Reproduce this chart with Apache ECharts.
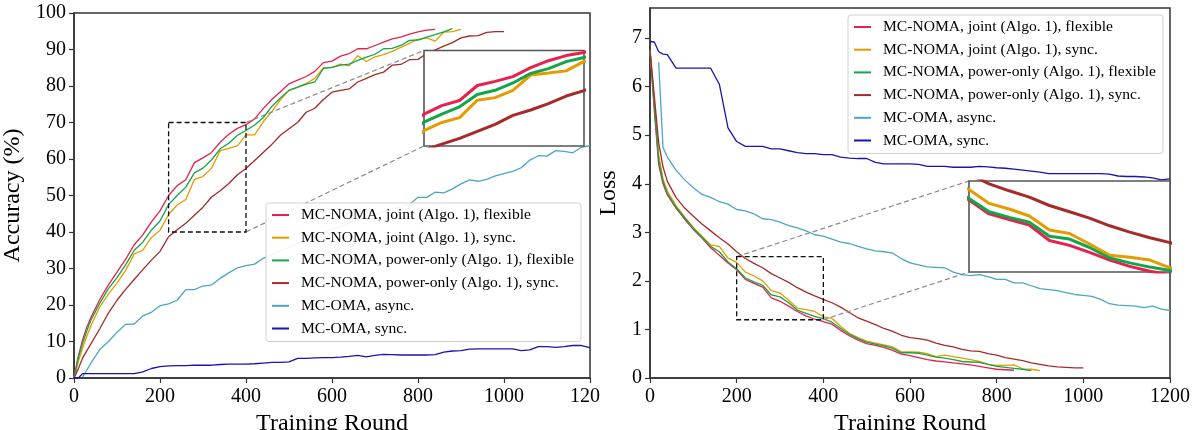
<!DOCTYPE html>
<html><head><meta charset="utf-8">
<script src="https://cdn.jsdelivr.net/npm/echarts@6/dist/echarts.min.js"></script>
<style>
html,body{margin:0;padding:0;background:#fff;}
#wrap{position:relative;width:1193px;height:430px;overflow:hidden;background:#fff;}
#left{position:absolute;left:0;top:0;width:600px;height:430px;overflow:hidden;}
#right{position:absolute;left:600px;top:0;width:593px;height:430px;overflow:hidden;}
</style></head><body>
<div id="wrap"><div id="left"></div><div id="right"></div></div>
<script>
// ---------------- data ----------------
const rounds = [0,10,20,30,40,60,80,100,120,140,160,180,200,220,240,260,280,300,320,340,360,380,400,420,440,460,480,500,520,540,560,580,600,620,640,660,680,700,720,740,760,780,800,820,840,860,880,900,920,940,960,980,1000,1020,1040,1060,1080,1100,1120,1140,1160,1180,1200];

const seriesNames = [
  'MC-NOMA, joint (Algo. 1), flexible',
  'MC-NOMA, joint (Algo. 1), sync.',
  'MC-NOMA, power-only (Algo. 1), flexible',
  'MC-NOMA, power-only (Algo. 1), sync.',
  'MC-OMA, async.',
  'MC-OMA, sync.'
];

// Accuracy (%)
const accJointFlex = [0,6,10.4,14,16.8,21.5,25.5,29,32.5,36.5,39.2,42.8,45.8,50,52.7,54.3,59,60.3,61.8,64.6,66.8,68.4,69.4,71,73.8,76.3,78.4,80.6,81.6,82.6,84,86.4,86.8,88.2,88.9,90.2,90.2,91.1,92,92.9,93.4,94.2,94.8,95.3,95.5];
const accJointSync = [0,4.5,8.2,11.5,14.5,19.5,23,26,29.5,34,35,38.5,40.5,44.8,47.4,48.9,54.4,55.2,57.5,62.3,62.9,63.6,66.6,66.6,70.2,73,76.2,78.8,79.6,80.7,82.1,85,85.1,86,85.5,88.3,86.7,88,88.6,89.5,90.6,91.7,92.8,93.2,92.3,94.8,94.9,95.5];
const accPowerFlex = [0,5.5,9.5,13,16,20.5,24.5,27.5,31,35,37.2,40.5,43,47.5,50,52.3,56.2,57.5,59.8,62.8,64.3,66.5,67.8,69.3,71.3,74.4,76.7,78.8,79.7,80.5,81.1,84.8,85.1,85.7,86,87,87.9,88.7,90.2,90.3,91.1,92.5,92.6,93.4,94.1,94.8,95.7];
const accPowerSync = [0,2.5,5.5,7.5,9.5,13.5,17.8,21.3,24.3,27,29.7,32.3,34.7,38.7,40.6,42.4,44.6,46.8,49.6,51.3,53.3,55.7,57.4,59.6,61.8,64,66.5,68.3,70,72.8,73.9,76.3,78.3,78.8,79.2,81.1,82.1,83.1,83.8,85.7,85.9,87.2,87.3,88.9,89.9,90.9,91.9,93.2,93.7,93.8,94.7,94.9,94.9];
const accOmaAsync = [null,null,0.3,2.2,4.2,7.8,10,12.5,14.7,14.8,17,18,19.8,20.3,21.3,24.2,24.2,25.2,25.5,27.3,28.8,30.2,30.8,31.2,32.8,33.8,35,35.8,36.8,38,38.8,40,40.8,41.5,42.5,43.3,44,44.8,45.5,46.3,46.9,47.5,49.5,49.5,50.9,50.7,51.8,53.2,54.3,53.9,54.4,55.4,56,56.6,57.6,59.7,60.9,60.8,62.3,62.1,61.7,63.2,63.7];
const accOmaSync = [0,0,1.2,1.2,1.2,1.2,1.2,1.2,1.2,1.2,1.7,2.6,3.1,3.3,3.4,3.4,3.5,3.5,3.5,3.7,3.8,3.8,3.8,3.9,4.1,4.3,4.3,4.4,5.4,5.4,5.5,5.6,5.6,5.7,5.9,6.2,5.8,6.2,6.5,6.4,6.3,6.3,6.3,6.3,6.4,7.1,7.4,7.5,7.9,8,8,8,8,8,7.5,7.7,8.6,8.6,8.4,8.6,8.9,8.9,8.3];

// Loss
const lossJointFlex = [6.75,5.5,4.4,4.0,3.77,3.5,3.27,3.06,2.88,2.68,2.53,2.37,2.23,2.03,1.95,1.87,1.65,1.58,1.48,1.37,1.28,1.21,1.16,1.11,0.98,0.87,0.78,0.71,0.67,0.63,0.57,0.49,0.46,0.42,0.38,0.35,0.33,0.31,0.29,0.27,0.24,0.21,0.18,0.17,0.16];
const lossJointSync = [6.75,5.7,4.6,4.1,3.85,3.55,3.32,3.1,2.92,2.74,2.71,2.47,2.38,2.18,2.1,2.0,1.8,1.75,1.6,1.44,1.41,1.37,1.26,1.23,1.06,0.92,0.83,0.76,0.72,0.68,0.64,0.54,0.54,0.53,0.5,0.44,0.47,0.44,0.41,0.38,0.34,0.28,0.26,0.26,0.27,0.19,0.18,0.15];
const lossPowerFlex = [6.75,5.6,4.5,4.05,3.8,3.52,3.3,3.08,2.9,2.71,2.6,2.39,2.25,2.06,1.98,1.91,1.71,1.67,1.55,1.4,1.33,1.27,1.22,1.15,1.02,0.9,0.81,0.74,0.7,0.66,0.61,0.52,0.52,0.51,0.47,0.43,0.41,0.38,0.34,0.33,0.32,0.28,0.24,0.22,0.2,0.18,0.15];
const lossPowerSync = [6.75,5.8,4.85,4.35,4.05,3.72,3.5,3.33,3.17,3.03,2.89,2.76,2.6,2.46,2.36,2.27,2.15,2.06,1.97,1.86,1.77,1.69,1.62,1.55,1.46,1.35,1.24,1.17,1.1,1.02,0.96,0.88,0.83,0.81,0.78,0.72,0.67,0.64,0.59,0.56,0.55,0.5,0.47,0.42,0.39,0.36,0.31,0.28,0.25,0.23,0.22,0.21,0.21];
const lossOmaAsync = [null,null,6.5,4.75,4.55,4.28,4.08,3.92,3.78,3.72,3.63,3.58,3.47,3.44,3.38,3.28,3.26,3.21,3.14,3.09,3.03,2.95,2.92,2.86,2.8,2.77,2.71,2.66,2.62,2.6,2.57,2.46,2.37,2.33,2.29,2.28,2.27,2.18,2.13,2.11,2.13,2.09,2.03,2.03,1.96,1.96,1.9,1.84,1.82,1.8,1.76,1.72,1.7,1.68,1.62,1.53,1.5,1.49,1.48,1.45,1.48,1.42,1.39];
const lossOmaSync = [6.93,6.92,6.72,6.67,6.66,6.38,6.38,6.38,6.38,6.38,6.05,5.15,4.87,4.77,4.77,4.77,4.72,4.72,4.68,4.64,4.62,4.62,4.6,4.6,4.55,4.53,4.52,4.52,4.44,4.41,4.41,4.41,4.41,4.4,4.36,4.36,4.36,4.34,4.34,4.34,4.36,4.35,4.33,4.32,4.3,4.28,4.26,4.24,4.21,4.21,4.21,4.21,4.21,4.21,4.21,4.2,4.16,4.15,4.15,4.14,4.12,4.08,4.1];

const xTicks = [0,200,400,600,800,1000,1200];
const accTicks = [0,10,20,30,40,50,60,70,80,90,100];
const lossTicks = [0,1,2,3,4,5,6,7];

// ---------------- styling ----------------
const colors = ['#e8204f','#e69b00','#12a64a','#a52a2a','#4ba5c8','#1616ae'];
const FONT = "'Liberation Serif','DejaVu Serif',serif";
const AX = '#333';
const plain = v => String(v);

function pairs(vals){ return vals.map((v,i)=>[rounds[i], v==null ? '-' : v]); }

function build(dom, cfg){
  const chart = echarts.init(dom, null, {renderer:'canvas'});
  const series = [];
  cfg.data.forEach((d,i)=>{
    series.push({name:seriesNames[i], type:'line', xAxisIndex:0, yAxisIndex:0, data:pairs(d),
      symbol:'none', showSymbol:false, clip:true, z:2,
      lineStyle:{color:colors[i], width:1.3}, itemStyle:{color:colors[i]}});
  });
  cfg.data.forEach((d,i)=>{
    series.push({name:seriesNames[i], type:'line', xAxisIndex:1, yAxisIndex:1, data:pairs(d),
      symbol:'none', showSymbol:false, clip:true, z:8,
      lineStyle:{color:colors[i], width:3}, itemStyle:{color:colors[i]}});
  });
  const g = cfg.grid, ig = cfg.inset;
  chart.setOption({
    animation:false,
    backgroundColor:'#fff',
    textStyle:{fontFamily:FONT},
    grid:[
      {left:g.left, top:g.top, width:g.width, height:g.height, containLabel:false, outerBoundsMode:'none',
       show:true, borderColor:AX, borderWidth:1.5, backgroundColor:'transparent', z:0},
      {left:ig.left, top:ig.top, width:ig.width, height:ig.height, containLabel:false, outerBoundsMode:'none',
       show:true, borderColor:'#555', borderWidth:1.6, backgroundColor:'#fff', z:6}
    ],
    xAxis:[
      {type:'value', gridIndex:0, min:0, max:1200, interval:200,
       name:'Training Round', nameLocation:'middle', nameGap:cfg.xNameGap,
       nameTextStyle:{fontFamily:FONT, fontSize:24, color:'#000'},
       axisLine:{show:true, onZero:false, lineStyle:{color:AX, width:1.5}},
       axisTick:{show:true, length:5, lineStyle:{color:AX, width:1.2}, customValues:xTicks},
       axisLabel:{fontFamily:FONT, fontSize:20, color:'#000', margin:9, customValues:xTicks, formatter:plain},
       splitLine:{show:false}},
      {type:'value', gridIndex:1, min:ig.x0, max:ig.x1, show:false, splitLine:{show:false}}
    ],
    yAxis:[
      {type:'value', gridIndex:0, min:0, max:cfg.yMax,
       name:cfg.yName, nameLocation:'middle', nameRotate:90, nameGap:cfg.yNameGap,
       nameTextStyle:{fontFamily:FONT, fontSize:24, color:'#000'},
       axisLine:{show:true, onZero:false, lineStyle:{color:AX, width:1.5}},
       axisTick:{show:true, length:5, lineStyle:{color:AX, width:1.2}, customValues:cfg.yTicks},
       axisLabel:{fontFamily:FONT, fontSize:20, color:'#000', margin:8, customValues:cfg.yTicks, formatter:plain},
       splitLine:{show:false}},
      {type:'value', gridIndex:1, min:ig.y0, max:ig.y1, show:false, splitLine:{show:false}}
    ],
    legend:{
      data:seriesNames, orient:'vertical', left:cfg.legend.left, top:cfg.legend.top,
      icon:'rect', itemWidth:17, itemHeight:2, itemGap:6.7,
      padding:[4,7,5,6], borderColor:'#d0d0d0', borderWidth:1, borderRadius:3,
      backgroundColor:'rgba(255,255,255,0.92)', z:10,
      textStyle:{fontFamily:FONT, fontSize:15.6, color:'#000', lineHeight:16, padding:[0,0,0,7]},
      selectedMode:false
    },
    series:series
  });
  // zoom box + connector lines via library coordinate conversion
  const P = (x,y)=>chart.convertToPixel({xAxisIndex:0, yAxisIndex:0}, [x,y]);
  const Q = (x,y)=>chart.convertToPixel({xAxisIndex:1, yAxisIndex:1}, [x,y]);
  const b1 = P(ig.x0, ig.y1), b2 = P(ig.x1, ig.y0);
  const graphics = [{type:'rect', z:9, shape:{x:b1[0], y:b1[1], width:b2[0]-b1[0], height:b2[1]-b1[1]},
    style:{fill:null, stroke:'#111', lineWidth:1.3, lineDash:[5,3]}}];
  cfg.connect.forEach(c=>{
    const a = P(c[0][0], c[0][1]), b = Q(c[1][0], c[1][1]);
    graphics.push({type:'line', z:5, shape:{x1:a[0], y1:a[1], x2:b[0], y2:b[1]},
      style:{stroke:'#8a8a8a', lineWidth:1.2, lineDash:[5,3]}});
  });
  chart.setOption({graphic:graphics});
  return chart;
}

build(document.getElementById('left'), {
  data:[accJointFlex, accJointSync, accPowerFlex, accPowerSync, accOmaAsync, accOmaSync],
  grid:{left:74, top:13, width:516, height:365},
  inset:{left:424, top:50.5, width:160, height:95.5, x0:220, x1:400, y0:40, y1:70},
  yMax:100, yTicks:accTicks, yName:'Accuracy (%)', yNameGap:37, xNameGap:29,
  legend:{left:266, top:203},
  connect:[[[400,70],[220,70]], [[400,40],[220,40]]]
});

build(document.getElementById('right'), {
  data:[lossJointFlex, lossJointSync, lossPowerFlex, lossPowerSync, lossOmaAsync, lossOmaSync],
  grid:{left:50, top:8, width:520, height:370},
  inset:{left:369, top:181, width:201, height:91, x0:200, x1:400, y0:1.2, y1:2.5},
  yMax:7.62, yTicks:lossTicks, yName:'Loss', yNameGap:22, xNameGap:29,
  legend:{left:248, top:15},
  connect:[[[200,2.5],[200,2.5]], [[400,1.2],[200,1.2]]]
});
</script>
</body></html>
